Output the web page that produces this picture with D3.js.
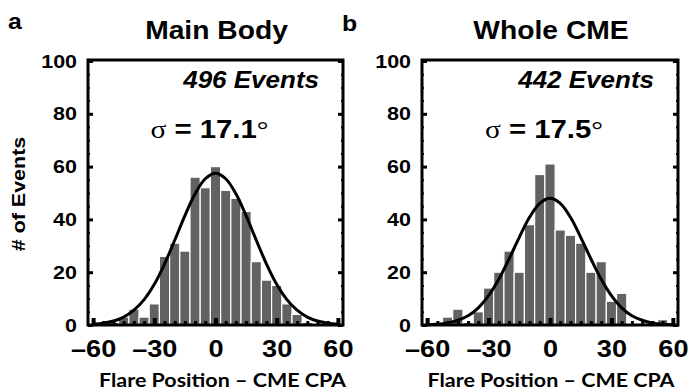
<!DOCTYPE html>
<html>
<head>
<meta charset="utf-8">
<script src="https://cdn.jsdelivr.net/npm/d3@7"></script>
<style>
  body { margin: 0; background: #fff; }
  svg text { font-family: "Liberation Sans", Arial, sans-serif; font-weight: bold; fill: #000; }
</style>
</head>
<body>
<script>
// bin centres (degrees), 5 degree wide bins
var binCenters = [-60, -55, -50, -45, -40, -35, -30, -25, -20, -15, -10, -5, 0,
                  5, 10, 15, 20, 25, 30, 35, 40, 45, 50, 55, 60];

// event counts per bin
var mainBodyCounts = [0, 0, 1, 3, 6, 3, 8, 26, 31, 28, 56, 52, 60,
                      51, 48, 43, 24, 17, 15, 8, 4, 1, 0, 0, 0];
var wholeCmeCounts = [0, 1, 3, 6, 1, 5, 14, 20, 28, 20, 38, 57, 61,
                      36, 34, 31, 20, 24, 9, 12, 0, 0, 1, 2, 0];

// fitted gaussian curve, read at the same positions
var mainBodyFit = [0.3, 0.7, 1.5, 3.0, 5.6, 9.6, 15.4, 23.1, 32.1, 41.4, 49.7, 55.4, 57.5,
                   55.4, 49.7, 41.4, 32.1, 23.1, 15.4, 9.6, 5.6, 3.0, 1.5, 0.7, 0.3];
var wholeCmeFit = [0.1, 0.3, 0.8, 1.8, 3.5, 6.5, 11.1, 17.3, 25.0, 33.2, 40.8, 46.1, 48.0,
                   46.1, 40.8, 33.2, 25.0, 17.3, 11.1, 6.5, 3.5, 1.8, 0.8, 0.3, 0.1];

var xTicks = [-60, -30, 0, 30, 60];
var xMinorTicks = d3.range(-60, 61, 5);
var yTicks = [0, 20, 40, 60, 80, 100];
var yMinorTicks = d3.range(0, 101, 5);

var panelLetters = ["a", "b"];
var panelTitles = ["Main Body", "Whole CME"];
var eventLabels = ["496 Events", "442 Events"];
var sigmaValues = ["17.1", "17.5"];

var w = 688, h = 392;
var S = 1.13; // the original lettering is a bit wide

var svg = d3.select("body").append("svg")
  .attr("width", w)
  .attr("height", h);

// stretch a text horizontally around its anchor point
function stretch(sel) {
  sel.each(function() {
    var t = d3.select(this);
    var x = +t.attr("x") || 0;
    t.attr("x", 0).attr("transform", "translate(" + x + ",0) scale(" + S + ",1)");
  });
}

var panels = [
  { left: 88, right: 343, counts: mainBodyCounts, fit: mainBodyFit, letterY: 29 },
  { left: 422, right: 678, counts: wholeCmeCounts, fit: wholeCmeFit, letterY: 31 }
];

var plotTop = 61, plotBottom = 325;

panels.forEach(function(p, i) {
  var x = d3.scaleLinear().domain([-62.5, 62.5]).range([p.left, p.right]);
  var y = d3.scaleLinear().domain([0, 100]).range([plotBottom, plotTop]);
  var g = svg.append("g");

  // bars
  g.selectAll(".bar")
    .data(binCenters.map(function(c, j) { return { c: c, n: p.counts[j] }; }))
    .enter()
    .append("rect")
    .attr("class", "bar")
    .attr("x", function(d) { return x(d.c - 2.5); })
    .attr("width", function(d) { return x(d.c + 2.5) - x(d.c - 2.5); })
    .attr("y", function(d) { return y(d.n); })
    .attr("height", function(d) { return y(0) - y(d.n); })
    .style("fill", "#626262")
    .style("stroke", "#fff")
    .style("stroke-width", 1.2);

  // gaussian fit
  var line = d3.line()
    .x(function(d) { return x(d[0]); })
    .y(function(d) { return y(d[1]); })
    .curve(d3.curveCatmullRom);
  g.append("path")
    .datum(binCenters.map(function(c, j) { return [c, p.fit[j]]; }))
    .attr("d", line)
    .style("fill", "none")
    .style("stroke", "#000")
    .style("stroke-width", 3);

  // y axis, ticks inside
  var yAxis = g.append("g")
    .attr("transform", "translate(" + p.left + ",0)")
    .call(d3.axisLeft(y).tickValues(yTicks).tickSize(-5).tickPadding(11));
  yAxis.select(".domain").remove();
  yAxis.selectAll("line").style("stroke-width", 3);
  yAxis.selectAll("text").style("font-size", "19px").style("font-family", null).call(stretch);

  var yMinor = g.append("g")
    .attr("transform", "translate(" + p.left + ",0)")
    .call(d3.axisLeft(y).tickValues(yMinorTicks).tickSize(-2).tickFormat(""));
  yMinor.select(".domain").remove();
  yMinor.selectAll("line").style("stroke-width", 2);

  var yRight = g.append("g")
    .attr("transform", "translate(" + p.right + ",0)")
    .call(d3.axisRight(y).tickValues(yTicks).tickSize(-5).tickFormat(""));
  yRight.select(".domain").remove();
  yRight.selectAll("line").style("stroke-width", 3);

  var yRightMinor = g.append("g")
    .attr("transform", "translate(" + p.right + ",0)")
    .call(d3.axisRight(y).tickValues(yMinorTicks).tickSize(-2).tickFormat(""));
  yRightMinor.select(".domain").remove();
  yRightMinor.selectAll("line").style("stroke-width", 2);

  // x axis, ticks inside
  var xMinor = g.append("g")
    .attr("transform", "translate(0," + plotBottom + ")")
    .call(d3.axisBottom(x).tickValues(xMinorTicks).tickSize(-4).tickFormat(""));
  xMinor.select(".domain").remove();
  xMinor.selectAll("line").style("stroke-width", 3);

  var xAxis = g.append("g")
    .attr("transform", "translate(0," + plotBottom + ")")
    .call(d3.axisBottom(x).tickValues(xTicks).tickSize(-7).tickPadding(15)
      .tickFormat(function(d) { return d < 0 ? "\u2013" + (-d) : d; }));
  xAxis.select(".domain").remove();
  xAxis.selectAll("line").style("stroke-width", 4);
  xAxis.selectAll("text").style("font-size", "24px").style("font-family", null).call(stretch);

  // frame
  g.append("rect")
    .attr("x", p.left)
    .attr("y", plotTop - 1)
    .attr("width", p.right - p.left)
    .attr("height", plotBottom - plotTop + 1)
    .style("fill", "none")
    .style("stroke", "#000")
    .style("stroke-width", 3);

  var cx = (p.left + p.right) / 2;

  // panel letter and title
  svg.append("text")
    .attr("x", p.left - 80)
    .attr("y", p.letterY)
    .style("font-size", "22px")
    .text(panelLetters[i])
    .call(stretch);
  svg.append("text")
    .attr("x", cx + 1)
    .attr("y", 39)
    .attr("text-anchor", "middle")
    .style("font-size", "25px")
    .text(panelTitles[i])
    .call(stretch);

  // event count
  svg.append("text")
    .attr("x", p.right - 24)
    .attr("y", 88)
    .attr("text-anchor", "end")
    .style("font-size", "23px")
    .style("font-style", "italic")
    .text(eventLabels[i])
    .call(stretch);

  // sigma
  var sig = svg.append("text")
    .attr("x", cx - 6)
    .attr("y", 138)
    .attr("text-anchor", "middle")
    .style("font-size", "26px");
  sig.append("tspan")
    .style("font-family", "'Liberation Serif', serif")
    .style("font-weight", "normal")
    .text("\u03c3");
  sig.append("tspan").text(" = " + sigmaValues[i]);
  sig.append("tspan")
    .style("font-family", "'Liberation Serif', serif")
    .style("font-weight", "normal")
    .text("\u00b0");
  sig.call(stretch);

  // x axis title
  svg.append("text")
    .attr("x", cx + (i === 0 ? 7 : 1))
    .attr("y", 387)
    .attr("text-anchor", "middle")
    .style("font-family", "Lato, 'Open Sans', sans-serif")
    .style("font-size", "19px")
    .text("Flare Position \u2013 CME CPA")
    .call(stretch);
});

// shared y axis title
svg.append("text")
  .attr("transform", "translate(18,194) rotate(-90) scale(" + S + ",1)")
  .attr("text-anchor", "middle")
  .attr("dy", "0.35em")
  .style("font-size", "19px")
  .text("# of Events");
</script>
</body>
</html>
